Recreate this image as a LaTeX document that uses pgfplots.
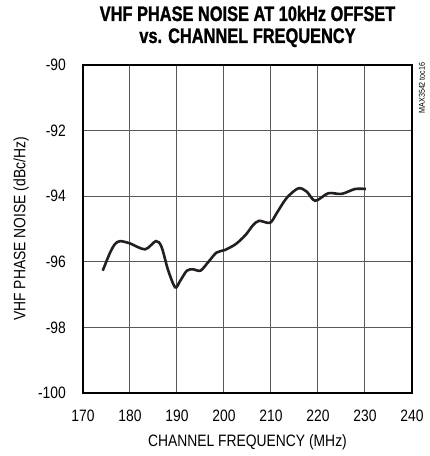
\documentclass[border=0pt]{standalone}
\usepackage{fontspec}
\usepackage{pgfplots}
\pgfplotsset{compat=1.18}
\setmainfont{Liberation Sans}[FakeStretch=0.84]
\newfontfamily\titlefont{Liberation Sans}[FakeStretch=0.78,FakeBold=1.2]
\definecolor{curve}{HTML}{231F20}

\begin{document}
\begin{tikzpicture}
\begin{axis}[
  name=ax,
  at={(0pt,0pt)}, anchor=south west,
  scale only axis,
  width=329pt, height=328pt,
  xmin=170, xmax=240,
  ymin=-100, ymax=-90,
  xtick={170,180,...,240},
  ytick={-100,-98,...,-90},
  yticklabels={-100,-98,-96,-94,-92,-90},
  major tick length=0pt,
  grid=major,
  major grid style={line width=1pt, color=black!65},
  axis line style={line width=2.6pt},
  /pgf/number format/assume math mode=true,
  ticklabel style={font=\fontsize{16.5}{18}\selectfont},
  xticklabel style={anchor=base, inner sep=0pt, yshift=-28pt},
  yticklabel style={anchor=east, inner sep=0pt, xshift=-17pt},
  xlabel={CHANNEL FREQUENCY (MHz)},
  ylabel={VHF PHASE NOISE (dBc/Hz)},
  label style={font=\fontsize{16.5}{18}\selectfont, inner sep=0pt},
  xlabel style={at={(axis description cs:0.5,-0.1616)}, anchor=base},
  ylabel style={at={(axis description cs:-0.1885,0.5)}, anchor=center},
  clip=false,
]
\addplot[color=curve, line width=2.6pt, smooth, tension=0.5] coordinates {
  (174.2,-96.27) (175.7,-95.74) (176.8,-95.46) (177.9,-95.37) (180.0,-95.44)
  (183.2,-95.62) (185.5,-95.37) (186.7,-95.54) (188.1,-96.25) (189.6,-96.78)
  (190.6,-96.60) (192.1,-96.27) (193.5,-96.23) (195.0,-96.27) (196.7,-96.00)
  (198.4,-95.72) (200.2,-95.64) (202.5,-95.46) (204.6,-95.18) (206.2,-94.88)
  (207.5,-94.75) (209.8,-94.81) (211.2,-94.52) (213.3,-94.06) (215.8,-93.76)
  (217.6,-93.86) (219.4,-94.14) (222.2,-93.91) (225.0,-93.93) (227.9,-93.78)
  (230.2,-93.78)
};
\end{axis}
\node[anchor=base, inner sep=0pt, font=\titlefont\bfseries\fontsize{21}{22}\selectfont]
  at (164.5pt,372pt) {VHF PHASE NOISE AT 10kHz OFFSET};
\node[anchor=base, inner sep=0pt, font=\titlefont\bfseries\fontsize{21}{22}\selectfont]
  at (164.5pt,350pt) {vs. CHANNEL FREQUENCY};
\node[rotate=90, inner sep=0pt, font=\fontsize{8.5}{9}\selectfont]
  at (339pt,305pt) {MAX3542 toc16};
\pgfresetboundingbox
\useasboundingbox (-83pt,-63pt) rectangle (347pt,393pt);
\end{tikzpicture}
\end{document}
